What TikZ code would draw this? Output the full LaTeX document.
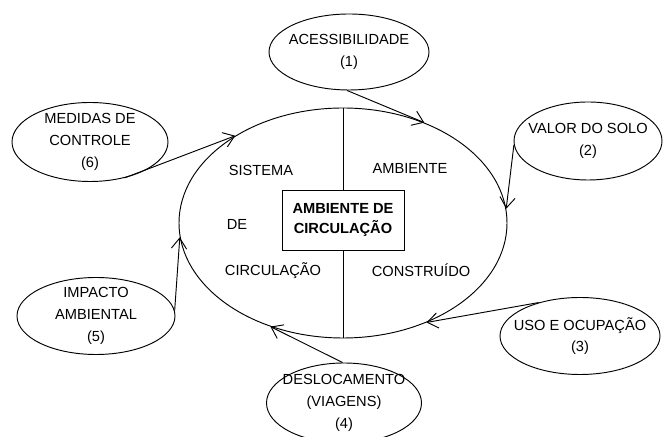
\documentclass[tikz,border=0pt]{standalone}
\usepackage{fontspec}
\setmainfont{Liberation Sans}
\usetikzlibrary{shapes.geometric}
\usetikzlibrary{arrows.meta}

\begin{document}
\begin{tikzpicture}[line width=0.8pt, >={Straight Barb[length=9pt,width=13pt]},
    topic/.style={draw, ellipse, inner xsep=-30pt, inner ysep=-8pt, align=center,
      font=\fontsize{12.5}{18.5}\selectfont},
    word/.style={font=\fontsize{12.5}{15}\selectfont}]
  \useasboundingbox (0,0) rectangle (19.92,13.11);

  % central system
  \node[draw, ellipse, minimum width=9.84cm, minimum height=6.9cm] (sys) at (10.29,6.42) {};
  \node[draw, rectangle, minimum width=3.66cm, minimum height=1.8cm, align=center,
    font=\bfseries\fontsize{12.5}{17}\selectfont] (core) at (10.29,6.51) {AMBIENTE DE\\CIRCULAÇÃO};
  \draw (sys.north) -- (core.north);
  \draw (core.south) -- (sys.south);

  % inner labels
  \node[word] (sis) at (7.83,8.01) {SISTEMA};
  \node[word] (de) at (7.11,6.39) {DE};
  \node[word] (circ) at (8.19,4.98) {CIRCULAÇÃO};
  \node[word] (amb) at (12.30,8.07) {AMBIENTE};
  \node[word] (cons) at (12.63,5.01) {CONSTRUÍDO};

  % factors
  \node[topic, minimum width=4.8cm, minimum height=2.28cm] (acc) at (10.47,11.55) {ACESSIBILIDADE\\(1)};
  \node[topic, minimum width=4.44cm, minimum height=2.34cm] (val) at (17.64,8.88) {VALOR DO SOLO\\(2)};
  \node[topic, minimum width=4.8cm, minimum height=2.31cm] (uso) at (17.40,3.03) {USO E OCUPAÇÃO\\(3)};
  \node[topic, minimum width=4.65cm, minimum height=2.4cm] (des) at (10.32,1.02) {DESLOCAMENTO\\(VIAGENS)\\(4)};
  \node[topic, minimum width=4.74cm, minimum height=2.31cm] (imp) at (2.88,3.63) {IMPACTO\\AMBIENTAL\\(5)};
  \node[topic, minimum width=4.68cm, minimum height=2.37cm] (med) at (2.70,8.85) {MEDIDAS DE\\CONTROLE\\(6)};

  % arrows into the system
  \draw[->] (acc.267) -- (sys.51);
  \draw[->] (val.183) -- (sys.5);
  \draw[->] (uso.141) -- (sys.310);
  \draw[->] (des.92) -- (sys.235);
  \draw[->] (imp.4) -- (sys.185);
  \draw[->] (med.314) -- (sys.141);
\end{tikzpicture}
\end{document}
